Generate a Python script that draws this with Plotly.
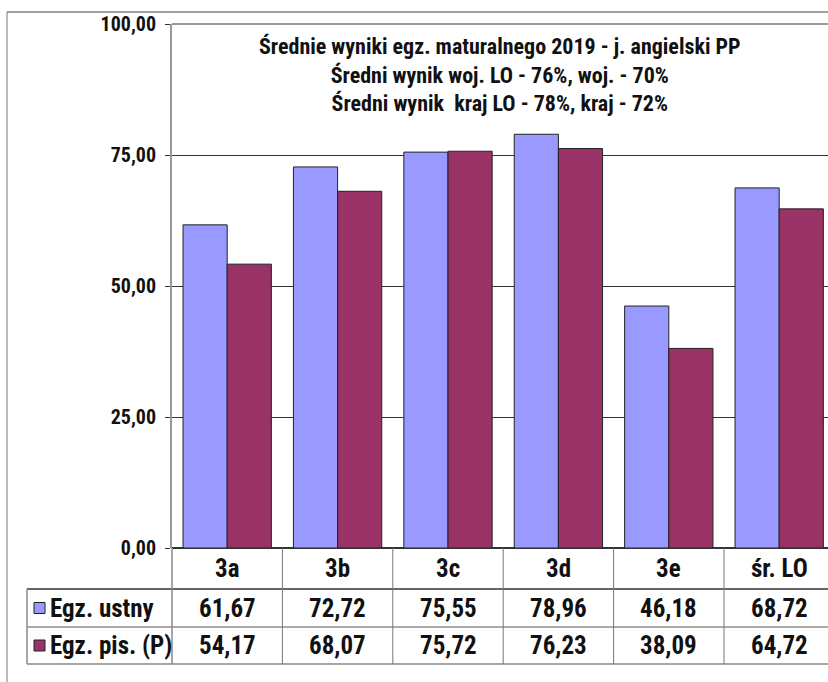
import plotly.graph_objects as go

categories = ["3a", "3b", "3c", "3d", "3e", "śr. LO"]
ustny = [61.67, 72.72, 75.55, 78.96, 46.18, 68.72]
pisemny = [54.17, 68.07, 75.72, 76.23, 38.09, 64.72]
series_names = ["Egz. ustny", "Egz. pis. (P)"]
colors = ["#9999FF", "#993366"]
title_lines = [
    "Średnie wyniki egz. maturalnego 2019 - j. angielski PP",
    "Średni wynik woj. LO - 76%, woj. - 70%",
    "Średni wynik  kraj LO - 78%, kraj - 72%",
]
y_ticks = [0, 25, 50, 75, 100]

W, H = 828, 682
ML, MR, MT, MB = 172, 0, 24, 134
PW = W - ML - MR
PH = H - MT - MB
FONT = "Roboto Condensed, Liberation Sans, Arial, sans-serif"
TXT = "#111111"


def px_x(px):
    return (px - ML) / PW


def px_y(py):
    return (H - MB - py) / PH


def fmt(v):
    return f"{v:.2f}".replace(".", ",")


fig = go.Figure()
for name, vals, col in zip(series_names, [ustny, pisemny], colors):
    fig.add_trace(go.Bar(
        x=categories, y=vals, name=name,
        marker=dict(color=col, line=dict(color="#222222", width=1)),
    ))

shapes = []
annotations = []

# outer frame
shapes.append(dict(type="line", xref="paper", yref="paper",
                   x0=px_x(7), x1=1.0, y0=px_y(12), y1=px_y(12),
                   line=dict(color="#444444", width=1)))
shapes.append(dict(type="line", xref="paper", yref="paper",
                   x0=px_x(7), x1=px_x(7), y0=px_y(12), y1=px_y(H),
                   line=dict(color="#777777", width=1)))
# top plot border (gray)
shapes.append(dict(type="line", xref="paper", yref="paper",
                   x0=0, x1=1, y0=1, y1=1, layer="above",
                   line=dict(color="#999999", width=2)))

# table rows
row_top = px_y(548)
row_cat = px_y(589)
row_1 = px_y(627)
row_2 = px_y(664)

shapes.append(dict(type="line", xref="paper", yref="paper",
                   x0=px_x(27), x1=1, y0=row_cat, y1=row_cat,
                   line=dict(color="#333333", width=1.5)))
shapes.append(dict(type="line", xref="paper", yref="paper",
                   x0=px_x(27), x1=1, y0=row_1, y1=row_1,
                   line=dict(color="#555555", width=1)))
shapes.append(dict(type="line", xref="paper", yref="paper",
                   x0=px_x(27), x1=1, y0=row_2, y1=row_2,
                   line=dict(color="#888888", width=1.5)))
# left table border
shapes.append(dict(type="line", xref="paper", yref="paper",
                   x0=px_x(27), x1=px_x(27), y0=row_cat, y1=row_2,
                   line=dict(color="#888888", width=1.5)))
shapes.append(dict(type="line", xref="paper", yref="paper",
                   x0=0, x1=0, y0=row_top, y1=row_2,
                   line=dict(color="#888888", width=1.5)))
# vertical separators between categories
for i in range(1, len(categories)):
    shapes.append(dict(type="line", xref="x", yref="paper",
                       x0=i - 0.5, x1=i - 0.5, y0=row_top, y1=row_2,
                       line=dict(color="#777777", width=1)))

# category labels
for c in categories:
    annotations.append(dict(x=c, xref="x", y=(row_top + row_cat) / 2, yref="paper",
                            text=c, showarrow=False, yanchor="middle",
                            font=dict(family=FONT, size=25, color=TXT, weight="bold")))

# values & row labels
for vals, name, col, (ya, yb) in zip([ustny, pisemny], series_names, colors,
                                     [(row_cat, row_1), (row_1, row_2)]):
    ym = (ya + yb) / 2
    for c, v in zip(categories, vals):
        annotations.append(dict(x=c, xref="x", y=ym, yref="paper",
                                text=fmt(v), showarrow=False, yanchor="middle",
                                font=dict(family=FONT, size=25, color=TXT, weight="bold")))
    annotations.append(dict(x=px_x(48), xref="paper", y=ym, yref="paper",
                            text=name, showarrow=False, xanchor="left", yanchor="middle",
                            font=dict(family=FONT, size=25, color=TXT, weight="bold")))
    shapes.append(dict(type="rect", xref="paper", yref="paper",
                       x0=px_x(34), x1=px_x(45),
                       y0=ym - 5.5 / PH, y1=ym + 5.5 / PH,
                       fillcolor=col, line=dict(color="#222222", width=1)))

# title
annotations.append(dict(x=px_x(500), xref="paper", y=px_y(31), yref="paper",
                        text="<br>".join(title_lines),
                        showarrow=False, xanchor="center", yanchor="top", align="center",
                        font=dict(family=FONT, size=22, color=TXT, weight="bold")))

fig.update_layout(
    width=W, height=H,
    margin=dict(l=ML, r=MR, t=MT, b=MB),
    paper_bgcolor="white", plot_bgcolor="white",
    barmode="group", bargap=0.2, bargroupgap=0,
    showlegend=False,
    separators=", ",
    font=dict(family=FONT, size=16, color=TXT),
    shapes=shapes, annotations=annotations,
)
fig.update_xaxes(range=[-0.5, -0.5 + PW / 110.4], showticklabels=False,
                 showgrid=False, zeroline=False, showline=False, fixedrange=True)
fig.update_yaxes(range=[0, 100], tickvals=y_ticks, tickformat=".2f",
                 ticks="outside", ticklen=5, tickcolor="#333333",
                 showline=True, linecolor="#999999", linewidth=2,
                 showgrid=True, gridcolor="#333333", gridwidth=1,
                 zeroline=True, zerolinecolor="#333333", zerolinewidth=1.5,
                 tickfont=dict(family=FONT, size=20, color=TXT, weight="bold"),
                 ticklabelstandoff=5, fixedrange=True)

fig.write_html("out.html", config={"displayModeBar": False},
               post_script="document.body.style.margin='0';")
